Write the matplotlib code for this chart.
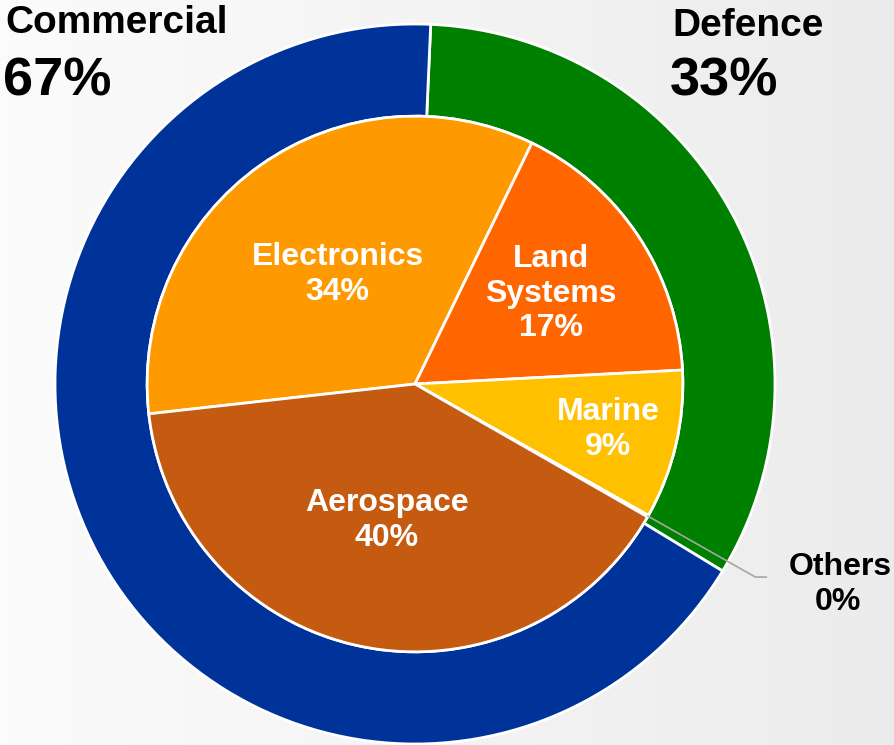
import numpy as np
import matplotlib
matplotlib.use("Agg")
import matplotlib.pyplot as plt

plt.rcParams['font.family'] = ['Liberation Sans', 'DejaVu Sans']

# outer ring: business split
outer_labels = ['Defence', 'Commercial']
outer_values = [33, 67]
outer_colors = ['#008000', '#003399']

# inner pie: market segments (clockwise from Electronics)
inner_labels = ['Electronics', 'Land\nSystems', 'Marine', 'Others', 'Aerospace']
inner_pct = ['34%', '17%', '9%', '0%', '40%']
inner_values = [34, 17, 9, 0.1, 40]
inner_colors = ['#ff9900', '#ff6600', '#ffc000', '#a6a6a6', '#c55a11']
label_dist = [0.50, 0.61, 0.74, 0.0, 0.52]

fig = plt.figure(figsize=(8.95, 7.45), dpi=100)

# soft grey background gradient
bg = fig.add_axes([0, 0, 1, 1], zorder=-1)
grad = np.linspace(0.985, 0.925, 256).reshape(1, -1)
bg.imshow(np.dstack([grad, grad, grad]), aspect='auto', extent=[0, 1, 0, 1])
bg.axis('off')

ax = fig.add_axes([0, 0, 1, 1])

ring_w = 0.256
r_in = 1 - ring_w

ax.pie(outer_values, colors=outer_colors, radius=1.0, startangle=87.5,
       counterclock=False,
       wedgeprops=dict(width=ring_w, edgecolor='white', linewidth=2))

wedges, _ = ax.pie(inner_values, colors=inner_colors, radius=r_in,
                   startangle=186.4, counterclock=False,
                   wedgeprops=dict(edgecolor='white', linewidth=2))

# centre of pie at (415, 384) px, radius 1 = 360 px
ax.set_aspect('auto')
ax.set_xlim(-415 / 360, (895 - 415) / 360)
ax.set_ylim((384 - 745) / 360, 384 / 360)
ax.axis('off')

for w, name, pct, d in zip(wedges, inner_labels, inner_pct, label_dist):
    mid = np.deg2rad((w.theta1 + w.theta2) / 2)
    if name == 'Others':
        # leader line out to the label
        x0, y0 = r_in * np.cos(mid), r_in * np.sin(mid)
        x1, y1 = 1.087 * np.cos(mid), 1.087 * np.sin(mid)
        ax.plot([x0, x1, x1 + 0.03], [y0, y1, y1], color='#a6a6a6', lw=1.2,
                zorder=5)
        continue
    r = d * r_in
    ax.text(r * np.cos(mid), r * np.sin(mid), name + '\n' + pct,
            ha='center', va='center', color='white', fontsize=23,
            fontweight='bold', linespacing=1.2)

# outer ring labels
W, H = 895, 745
fig.text(5 / W, 1 - 33 / H, 'Commercial', fontsize=28, fontweight='bold',
         ha='left', va='baseline', color='black')
fig.text(3 / W, 1 - 96 / H, '67%', fontsize=39, fontweight='bold',
         ha='left', va='baseline', color='black')
fig.text(672 / W, 1 - 36 / H, 'Defence', fontsize=28, fontweight='bold',
         ha='left', va='baseline', color='black')
fig.text(670 / W, 1 - 96 / H, '33%', fontsize=39, fontweight='bold',
         ha='left', va='baseline', color='black')
fig.text(840 / W, 1 - 575 / H, 'Others', fontsize=23, fontweight='bold',
         ha='center', va='baseline', color='black')
fig.text(838 / W, 1 - 610 / H, '0%', fontsize=23, fontweight='bold',
         ha='center', va='baseline', color='black')

fig.savefig('out.png', dpi=100)
